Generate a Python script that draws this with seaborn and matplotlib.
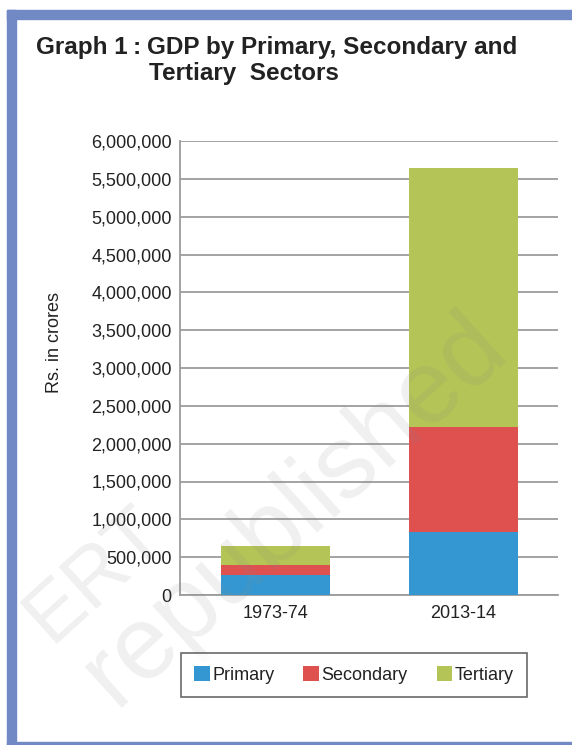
import matplotlib.pyplot as plt
import seaborn as sns
import pandas as pd
from matplotlib.patches import Patch, Rectangle

# values (Rs. in crores)
years = ["1973-74", "2013-14"]
primary = [267000, 839000]
secondary = [132000, 1379000]
tertiary = [246000, 3428000]

sectors = ["Primary", "Secondary", "Tertiary"]
colors = ["#3497d1", "#de514f", "#b5c456"]
yticks = list(range(0, 6000001, 500000))

sns.set_theme(style="white")
plt.rcParams["font.family"] = ["Liberation Sans", "DejaVu Sans"]

df = pd.DataFrame({"year": years, "Primary": primary,
                   "Secondary": secondary, "Tertiary": tertiary})
# stacked bars: draw cumulative totals from the top down
df["Secondary_top"] = df["Primary"] + df["Secondary"]
df["Tertiary_top"] = df["Secondary_top"] + df["Tertiary"]

fig = plt.figure(figsize=(5.72, 7.45), dpi=100)
ax = fig.add_axes([180 / 572, 1 - 595 / 745, 378 / 572, 454 / 745])

for col, c in zip(["Tertiary_top", "Secondary_top", "Primary"], colors[::-1]):
    sns.barplot(data=df, x="year", y=col, color=c, width=0.58,
                saturation=1, ax=ax, zorder=3, linewidth=0, edgecolor="none")

ax.set_xlim(-0.508, 1.503)
ax.set_ylim(0, 6000000)
ax.set_yticks(yticks)
ax.set_yticklabels([f"{v:,}" for v in yticks])
ax.yaxis.grid(True, color="#9c9c9c", lw=1.3)
ax.set_axisbelow(True)
for s in ["top", "right"]:
    ax.spines[s].set_visible(False)
for s in ["left", "bottom"]:
    ax.spines[s].set_color("#9c9c9c")
    ax.spines[s].set_linewidth(1.3)
ax.tick_params(axis="y", length=3, color="#9c9c9c", pad=3, labelsize=13,
               labelcolor="#222222")
ax.tick_params(axis="x", length=0, pad=7, labelsize=13, labelcolor="#222222")
ax.set_xlabel("")
ax.set_ylabel("Rs. in crores", fontsize=13, color="#222222")
ax.yaxis.set_label_coords(-0.31, 0.556)

# title
tkw = dict(fontsize=17.5, fontweight="bold", color="#222222", va="baseline")
fig.text(36 / 572, 1 - 54 / 745, "Graph 1", **tkw)
fig.text(133 / 572, 1 - 54 / 745, ":", **tkw)
fig.text(147 / 572, 1 - 54 / 745, "GDP by Primary, Secondary and", **tkw)
fig.text(149 / 572, 1 - 80 / 745, "Tertiary  Sectors", **tkw)

# legend
handles = [Patch(facecolor=c, edgecolor="none", label=s)
           for s, c in zip(sectors, colors)]
leg = fig.legend(handles=handles, loc="center",
                 bbox_to_anchor=(354 / 572, 1 - 675 / 745), ncol=3,
                 frameon=True, fancybox=False, fontsize=13,
                 handlelength=0.85, handleheight=0.85, handletextpad=0.15,
                 columnspacing=1.6, borderpad=0.75)
leg.get_frame().set_edgecolor("#444444")
leg.get_frame().set_linewidth(1.2)
for t in leg.get_texts():
    t.set_color("#222222")

# faint watermark
wkw = dict(color="#888888", alpha=0.13, rotation=42, ha="center", va="center")
fig.text(295 / 572, 1 - 510 / 745, "republished", fontsize=74, **wkw)
fig.text(95 / 572, 1 - 575 / 745, "ERT", fontsize=58, **wkw)

# blue page frame
frame = "#7189c5"
fig.patches.append(Rectangle((7 / 572, 0), 9 / 572, 1 - 10 / 745,
                             transform=fig.transFigure, color=frame))
fig.patches.append(Rectangle((7 / 572, 1 - 19 / 745), 1, 9 / 745,
                             transform=fig.transFigure, color=frame))
fig.patches.append(Rectangle((7 / 572, 0), 1, 3 / 745,
                             transform=fig.transFigure, color=frame))

fig.savefig("out.png", dpi=100)
plt.close(fig)
